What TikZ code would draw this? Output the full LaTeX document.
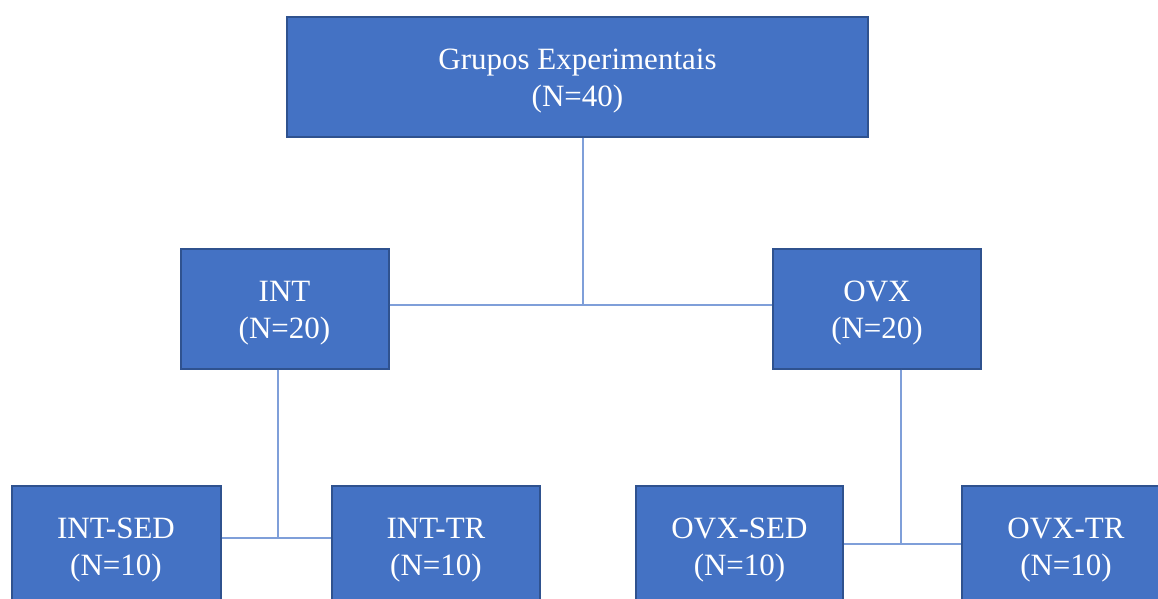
\documentclass[tikz,border=0pt]{standalone}
\usepackage{fontspec}
\setmainfont{Liberation Serif}
\definecolor{boxfill}{HTML}{4472C4}
\definecolor{boxline}{HTML}{2F528F}
\definecolor{conn}{HTML}{7F9FD9}
\newcommand{\gtwo}[2]{\raisebox{-4pt}[\height][\depth]{\begin{tabular}{@{}c@{}}#1\\#2\end{tabular}}}
\begin{document}
\begin{tikzpicture}[x=1pt,y=-1pt,
  gbox/.style={rectangle, fill=boxfill, draw=boxline, line width=2pt,
    text=white, align=center, inner sep=0pt,
    font=\fontsize{31}{37}\selectfont},
  conline/.style={draw=conn, line width=1.6pt}]
\useasboundingbox (0,0) rectangle (1158,599);
\clip (0,0) rectangle (1158,599);
\node[gbox, minimum width=581pt, minimum height=119pt] (top) at (577.5,77) {\gtwo{Grupos Experimentais}{(N=40)}};
\node[gbox, minimum width=208pt, minimum height=120pt] (int) at (284.5,308.5) {\gtwo{INT}{(N=20)}};
\node[gbox, minimum width=208pt, minimum height=120pt] (ovx) at (877,308.5) {\gtwo{OVX}{(N=20)}};
\node[gbox, minimum width=209pt, minimum height=120pt] (intsed) at (116,546) {\gtwo{INT-SED}{(N=10)}};
\node[gbox, minimum width=208pt, minimum height=120pt] (inttr) at (436,546) {\gtwo{INT-TR}{(N=10)}};
\node[gbox, minimum width=207pt, minimum height=120pt] (ovxsed) at (739.5,546) {\gtwo{OVX-SED}{(N=10)}};
\node[gbox, minimum width=208pt, minimum height=120pt] (ovxtr) at (1066,546) {\gtwo{OVX-TR}{(N=10)}};
\coordinate (j1) at (583,305);
\coordinate (j2) at (278,538);
\coordinate (j3) at (901,544);
\draw[conline] (top.south -| j1) -- (j1);
\draw[conline] (int.east |- j1) -- (ovx.west |- j1);
\draw[conline] (int.south -| j2) -- (j2);
\draw[conline] (intsed.east |- j2) -- (inttr.west |- j2);
\draw[conline] (ovx.south -| j3) -- (j3);
\draw[conline] (ovxsed.east |- j3) -- (ovxtr.west |- j3);
\end{tikzpicture}
\end{document}
